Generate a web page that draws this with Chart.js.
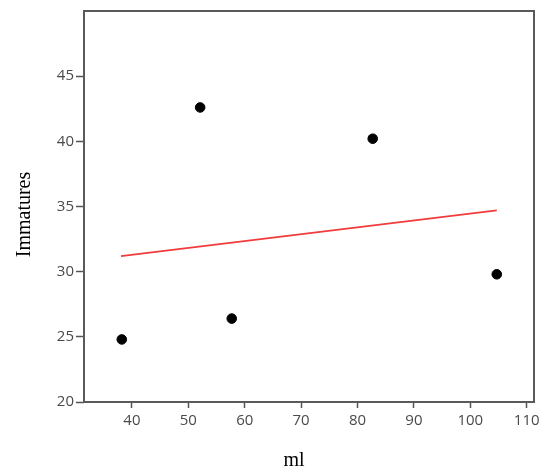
<!DOCTYPE html>
<html><head><meta charset="utf-8">
<script src="https://cdn.jsdelivr.net/npm/chart.js@4/dist/chart.umd.min.js"></script>
<style>html,body{margin:0;padding:0;background:#fff;}#wrap{width:550px;height:474px;}</style>
</head><body><div id="wrap"><canvas id="c" width="550" height="474"></canvas></div>
<script>
const mlValues = [38.2, 52.1, 57.7, 82.7, 104.7];
const immatures = [24.8, 42.6, 26.4, 40.2, 29.8];
const fitX = [38.05, 104.7];
const fitY = [31.2, 34.7];
const xTicks = [40, 50, 60, 70, 80, 90, 100, 110];
const yTicks = [20, 25, 30, 35, 40, 45];
const xTitle = 'ml';
const yTitle = 'Immatures';

const frame = {
  id: 'frame',
  afterDraw(chart) {
    const a = chart.chartArea, ctx = chart.ctx;
    ctx.save();
    ctx.strokeStyle = '#5a5a5a';
    ctx.lineWidth = 2;
    ctx.strokeRect(a.left, a.top, a.right - a.left, a.bottom - a.top);
    ctx.fillStyle = '#000';
    ctx.font = '20px "Liberation Serif"';
    ctx.textAlign = 'center';
    ctx.textBaseline = 'middle';
    ctx.fillText(xTitle, (a.left + a.right) / 2 - 15, chart.height - 13);
    ctx.translate(25, (a.top + a.bottom) / 2 + 8);
    ctx.rotate(-Math.PI / 2);
    ctx.fillText(yTitle, 0, 0);
    ctx.restore();
  }
};

new Chart(document.getElementById('c'), {
  type: 'scatter',
  data: {
    datasets: [
      {
        label: 'Immatures',
        data: mlValues.map((x, i) => ({x: x, y: immatures[i]})),
        backgroundColor: '#000',
        borderColor: '#000',
        pointRadius: 4.8,
        pointHoverRadius: 4.8
      },
      {
        label: 'Fit',
        type: 'line',
        data: fitX.map((x, i) => ({x: x, y: fitY[i]})),
        borderColor: '#f03c3c',
        borderWidth: 1.8,
        pointRadius: 0,
        fill: false
      }
    ]
  },
  options: {
    responsive: false,
    animation: false,
    layout: {padding: {top: 11, right: 16, left: 0, bottom: 0}},
    plugins: {legend: {display: false}, tooltip: {enabled: false}},
    scales: {
      x: {
        type: 'linear',
        min: 31.5, max: 111.3,
        afterBuildTicks: s => { s.ticks = xTicks.map(v => ({value: v})); },
        afterFit: s => { s.height = 72; },
        grid: {drawOnChartArea: false, tickLength: 6, tickColor: '#555', tickWidth: 1.5},
        border: {display: false},
        ticks: {color: '#4a4a4a', font: {family: 'Open Sans', size: 15}, padding: 4, maxRotation: 0},
        title: {display: false}
      },
      y: {
        type: 'linear',
        min: 20, max: 50,
        afterBuildTicks: s => { s.ticks = yTicks.map(v => ({value: v})); },
        afterFit: s => { s.width = 84; },
        grid: {drawOnChartArea: false, tickLength: 8, tickColor: '#555', tickWidth: 1.5},
        border: {display: false},
        ticks: {color: '#4a4a4a', font: {family: 'Open Sans', size: 15}, padding: 2},
        title: {display: false}
      }
    }
  },
  plugins: [frame]
});
</script></body></html>
